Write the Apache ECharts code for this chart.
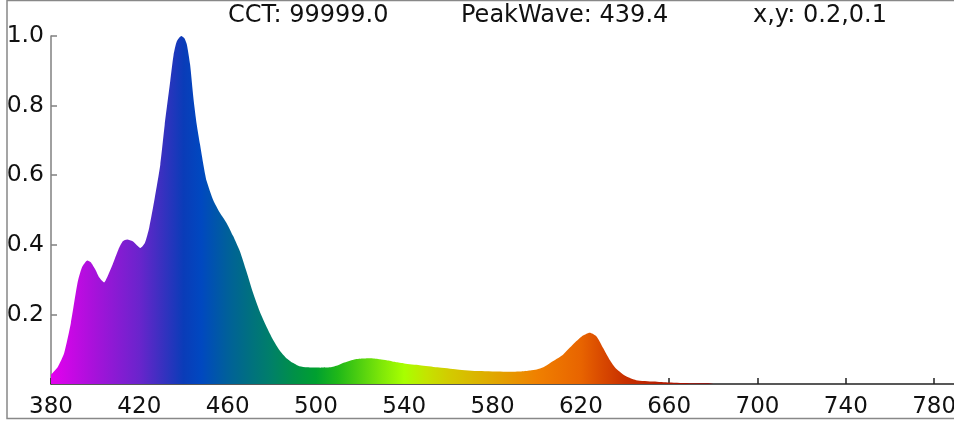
<!DOCTYPE html>
<html>
<head>
<meta charset="utf-8">
<script src="https://cdn.jsdelivr.net/npm/echarts@6/dist/echarts.min.js"></script>
<style>html,body{margin:0;padding:0;background:#fff;}#c{width:954px;height:421px;}</style>
</head>
<body>
<div id="c"></div>
<script>
var wavelengths = [380,383,386,389,392,394,396.5,398,400,402,404,406,408,410.5,412.5,414.5,417,419,420.5,422.5,424.5,427,429.5,431.5,434,435.5,437,439,440.5,441.5,443,444.5,446,447.5,449,450.5,453.5,456.5,459.5,462.5,465.5,468.5,471.5,474.5,477.5,480.5,483.5,486.5,489.5,492.5,496,502,506.5,510,512.5,517,521,525,529,532,536,540,547,555,564,574,586,592.5,597,600,603,607.5,612,616.5,620.5,624,627,630,633,636,640.5,645,653,660,670,677,680,780];
var intensity = [0.027,0.048,0.09,0.175,0.29,0.335,0.355,0.35,0.33,0.305,0.292,0.315,0.345,0.386,0.41,0.415,0.41,0.398,0.391,0.405,0.45,0.535,0.63,0.745,0.87,0.945,0.985,1.0,0.993,0.976,0.918,0.822,0.746,0.688,0.631,0.583,0.528,0.492,0.463,0.425,0.382,0.324,0.262,0.209,0.166,0.128,0.097,0.075,0.061,0.051,0.048,0.047,0.048,0.054,0.061,0.07,0.073,0.074,0.071,0.068,0.063,0.059,0.054,0.048,0.042,0.037,0.035,0.036,0.039,0.042,0.048,0.066,0.085,0.114,0.137,0.147,0.137,0.104,0.07,0.044,0.022,0.011,0.007,0.004,0.002,0.002,0,0];
var xTicks = [380,420,460,500,540,580,620,660,700,740,780];
var yTicks = [0.2,0.4,0.6,0.8,1.0];
var headerTexts = ['CCT: 99999.0','PeakWave: 439.4','x,y: 0.2,0.1'];
var spectrumStops = [
  [380,'#e400ee'],[400,'#a612da'],[420,'#6a24cc'],[430,'#3a30c0'],[440,'#0a3cb8'],
  [448,'#0048c0'],[460,'#00609a'],[470,'#007080'],[480,'#008068'],[490,'#009048'],
  [500,'#00a030'],[510,'#20b818'],[520,'#50d010'],[530,'#80e808'],[540,'#a8ff00'],
  [550,'#c4e400'],[560,'#d2cc00'],[580,'#e0a800'],[600,'#f08000'],[620,'#e86400'],
  [630,'#d84800'],[640,'#c83000'],[660,'#b01800'],[680,'#900000'],[780,'#800000']
];

var lo = wavelengths[0], hi = wavelengths[wavelengths.length-1];
var stops = spectrumStops.map(function(s){return {offset:(s[0]-lo)/(hi-lo), color:s[1]};});
var data = wavelengths.map(function(w,i){return [w,intensity[i]];});

var chart = echarts.init(document.getElementById('c'), null, {renderer:'canvas'});
var font = 'DejaVu Sans, Verdana, sans-serif';
chart.setOption({
  animation:false,
  grid:{left:51, right:0, top:36, bottom:37, containLabel:false, outerBoundsMode:'none'},
  xAxis:{
    type:'value', min:380, max:789, interval:20,
    axisLine:{show:true, onZero:false, lineStyle:{color:'#222', width:1.5}},
    axisTick:{show:true, inside:true, length:6, customValues:xTicks, lineStyle:{color:'#222', width:1.5}},
    axisLabel:{customValues:xTicks, color:'#111', fontFamily:font, fontSize:23, margin:12, hideOverlap:false},
    splitLine:{show:false}
  },
  yAxis:{
    type:'value', min:0, max:1, interval:0.2,
    axisLine:{show:true, lineStyle:{color:'#808080', width:1.5}},
    axisTick:{show:true, inside:true, length:6, customValues:yTicks, lineStyle:{color:'#808080', width:1.5}},
    axisLabel:{customValues:yTicks, color:'#111', fontFamily:font, fontSize:23.5, margin:7,
      formatter:function(v){return v.toFixed(1);}},
    splitLine:{show:false}
  },
  graphic:[
    {type:'rect', silent:true, z:-1, shape:{x:7, y:0.5, width:1000, height:418}, style:{fill:null, stroke:'#888', lineWidth:1.5}},
    {type:'text', left:228, top:4, style:{text:headerTexts[0], font:'24px '+font, fill:'#111'}},
    {type:'text', left:461, top:4, style:{text:headerTexts[1], font:'24px '+font, fill:'#111'}},
    {type:'text', left:753, top:4, style:{text:headerTexts[2], font:'24px '+font, fill:'#111'}}
  ],
  series:[{
    type:'line', data:data, smooth:0.2, symbol:'none',
    lineStyle:{width:0},
    areaStyle:{opacity:1, color:{type:'linear', x:0, y:0, x2:1, y2:0, colorStops:stops}}
  }]
});
</script>
</body>
</html>
